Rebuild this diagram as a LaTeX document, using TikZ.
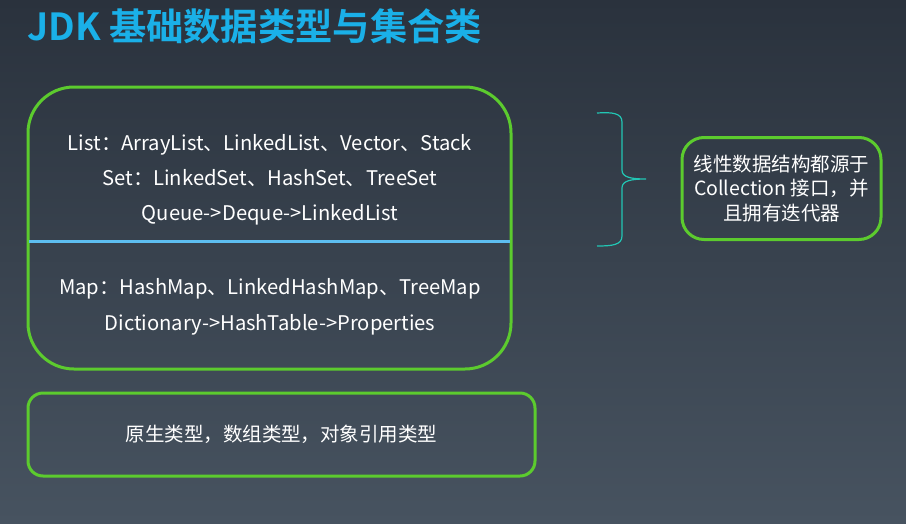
\documentclass[tikz,border=0pt]{standalone}
\usepackage{fontspec}
\setmainfont{Noto Sans CJK SC}
\newfontfamily\cjkbold{Noto Sans CJK SC Bold}
\definecolor{bgtop}{HTML}{2A323D}
\definecolor{bgbot}{HTML}{475360}
\definecolor{boxgreen}{HTML}{5CCB2E}
\definecolor{divblue}{HTML}{5DBEF0}
\definecolor{titleblue}{HTML}{1AB0E8}
\definecolor{braceteal}{HTML}{22C6B4}
\tikzset{
  greenbox/.style={draw=boxgreen, line width=3pt},
  bodytext/.style={text=white, font=\fontsize{20.2}{24}\selectfont, inner sep=0pt},
}
\begin{document}
\begin{tikzpicture}[x=1pt,y=-1pt]
\shade[top color=bgtop, bottom color=bgbot] (0,0) rectangle (906,523);
\useasboundingbox (0,0) rectangle (906,523);
% title
\node[anchor=base west, inner sep=0pt, text=titleblue, font=\cjkbold\fontsize{37.3}{40}\selectfont] (title) at (27,40) {JDK 基础数据类型与集合类};
% main box
\draw[greenbox, rounded corners=46pt] (28,87) rectangle (511,369);
\coordinate (divL) at (29,241.5);
\coordinate (divR) at (510,241.5);
\draw[divblue, line width=2.5pt] (divL) -- (divR);
\node[bodytext, anchor=base] (list) at (270,150) {List：ArrayList、LinkedList、Vector、Stack};
\node[bodytext, anchor=base] (set) at (270,185) {Set：LinkedSet、HashSet、TreeSet};
\node[bodytext, anchor=base] (queue) at (270,220) {Queue->Deque->LinkedList};
\node[bodytext, anchor=base] (map) at (270,294) {Map：HashMap、LinkedHashMap、TreeMap};
\node[bodytext, anchor=base] (dict) at (270,330) {Dictionary->HashTable->Properties};
% brace
\coordinate (bt) at (597,113);
\coordinate (bm) at (646,179);
\coordinate (bb) at (597,246);
\draw[braceteal, line width=1.2pt]
  (bt) .. controls (612,112) and (622,113) .. (622,122)
  -- (622,170) .. controls (622,177) and (630,179) .. (bm)
  .. controls (630,179) and (622,181) .. (622,188)
  -- (622,236) .. controls (622,245) and (612,246) .. (bb);
% right box
\node[greenbox, rounded corners=22pt, minimum width=199pt, minimum height=102pt, inner sep=0pt,
      text=white, align=center, font=\fontsize{19.5}{24.5}\selectfont] (coll) at (781.5,188.5)
  {线性数据结构都源于\\Collection 接口，并\\且拥有迭代器};
% bottom box
\node[greenbox, rounded corners=15pt, minimum width=507pt, minimum height=83pt, inner sep=0pt,
      text=white, font=\fontsize{19.5}{24}\selectfont] (prim) at (281.5,434.5)
  {原生类型，数组类型，对象引用类型};
\end{tikzpicture}
\end{document}
